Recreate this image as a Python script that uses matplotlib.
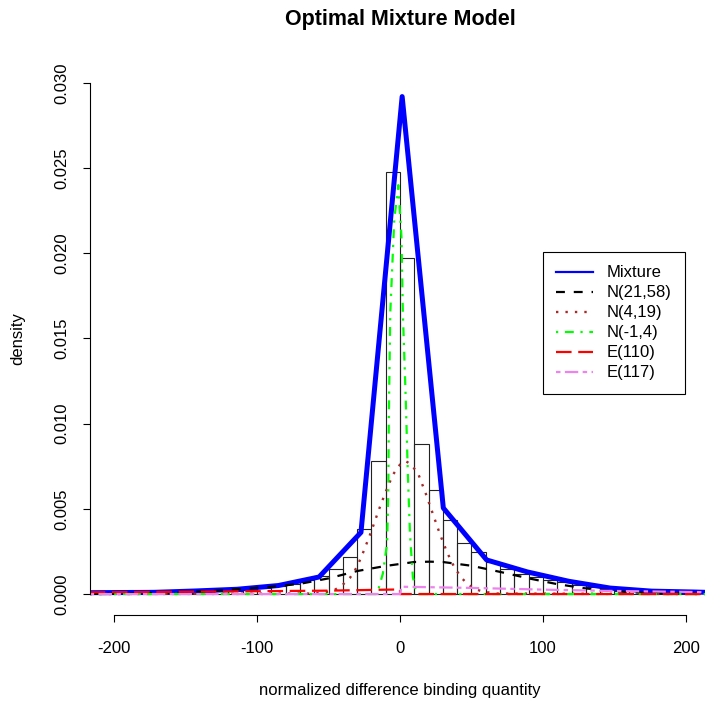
import matplotlib
matplotlib.use("Agg")
import matplotlib.pyplot as plt
import numpy as np

plt.rcParams['font.family'] = ['Liberation Sans', 'DejaVu Sans']
plt.rcParams['axes.unicode_minus'] = False

# histogram (bin width 10, from -210 to 210)
bin_left = list(range(-210, 210, 10))
hist_density = [
    0.00001, 0.00001, 0.00001, 0.00002, 0.00004, 0.00006, 0.00008, 0.0001,
    0.00015, 0.0002, 0.00025, 0.00035, 0.00045, 0.0006, 0.0008,
    0.00106, 0.00145, 0.00215, 0.0038, 0.00783, 0.0248, 0.0197, 0.0088,
    0.0061, 0.00434, 0.00301, 0.00245, 0.0019, 0.00145, 0.0012, 0.001,
    0.00085, 0.0007, 0.00055, 0.0004, 0.0003, 0.0002, 0.00015, 0.0001,
    0.00006, 0.00004, 0.00002,
]

# mixture fit
mix_x = [-217, -172, -143, -114, -85, -56.6, -27.3, 1.5, 30.3, 60.6, 89, 118, 147, 176, 205, 214]
mix_y = [0.00008, 0.0001, 0.00018, 0.00028, 0.0005, 0.001, 0.00362, 0.0292, 0.00505, 0.002,
         0.0013, 0.00075, 0.00035, 0.00017, 0.00012, 0.0001]

# N(21,58)
n1_x = [-217, -190, -170, -150, -130, -110, -90, -70, -50, -30, -10, 10, 21, 30, 50, 70, 90,
        110, 130, 150, 170, 190, 214]
n1_y = [0.00001, 0.00003, 0.00006, 0.00011, 0.00019, 0.0003, 0.00043, 0.0006, 0.00092, 0.00135,
        0.00165, 0.00188, 0.0019, 0.00188, 0.00166, 0.0013, 0.00092, 0.00058, 0.00033, 0.00016,
        0.00007, 0.00003, 0.00001]

# N(4,19)
n2_x = [-217, -60, -50, -45, -40, -35, -30, -25, -20, -15, -10, -5, 0, 4, 8, 13, 18, 23, 28,
        33, 38, 43, 48, 53, 58, 68, 214]
n2_y = [0, 0.00003, 0.00014, 0.00028, 0.00055, 0.00095, 0.0016, 0.0026, 0.0037, 0.0049, 0.006,
        0.007, 0.0076, 0.0078, 0.0076, 0.007, 0.0059, 0.0047, 0.0035, 0.00243, 0.00157, 0.00095,
        0.00053, 0.00028, 0.00014, 0.00003, 0]

# N(-1,4)
n3_x = [-217, -16, -12, -9, -8.2, -7.8, -6.8, -4, -1.2, 1, 2, 4, 5.5, 7, 9, 11, 13, 214]
n3_y = [0, 0, 0.0012, 0.003, 0.006, 0.0105, 0.0165, 0.022, 0.024, 0.021, 0.0165, 0.0115,
        0.007, 0.0035, 0.001, 0.0002, 0, 0]

# E(110), negative side
e1_x = [-217, -110, -50, 0, 0, 214]
e1_y = [0.0001, 0.00016, 0.0002, 0.00027, 0, 0]

# E(117), positive side
e2_x = [-217, 0, 1, 50, 100, 150, 214]
e2_y = [0, 0, 0.00043, 0.00036, 0.00026, 0.00018, 0.00011]

fig = plt.figure(figsize=(7.05, 7.04), dpi=100)
ax = fig.add_axes([90 / 705, 89 / 704, 615 / 705, 552 / 704])

ax.bar(bin_left, hist_density, width=10, align='edge', facecolor='none',
       edgecolor='#222222', linewidth=0.8)

ax.plot(mix_x, mix_y, color='#0000FF', lw=3.6, label='Mixture')
ax.plot(n1_x, n1_y, color='black', lw=1.6, dashes=(4, 4), label='N(21,58)')
ax.plot(n2_x, n2_y, color='#A52A2A', lw=1.7, dashes=(1, 3), label='N(4,19)')
ax.plot(n3_x, n3_y, color='#00FF00', lw=1.6, dashes=(1, 3, 4, 3), label='N(-1,4)')
ax.plot(e1_x, e1_y, color='#FF0000', lw=1.6, dashes=(7, 3), label='E(110)')
ax.plot(e2_x, e2_y, color='violet', lw=1.6, dashes=(2, 2, 6, 2), label='E(117)')

ax.set_xlim(-216.8, 213.3)
ax.set_ylim(-0.00123, 0.03117)

for s in ['top', 'right']:
    ax.spines[s].set_visible(False)
ax.spines['left'].set_bounds(0, 0.03)
ax.spines['bottom'].set_bounds(-200, 200)
for s in ['left', 'bottom']:
    ax.spines[s].set_linewidth(0.8)

ax.set_xticks([-200, -100, 0, 100, 200])
yt = np.arange(0, 0.0301, 0.005)
ax.set_yticks(yt)
ax.set_yticklabels(['%.3f' % v for v in yt], rotation=90, va='center')
ax.tick_params(axis='both', length=5, width=0.8, labelsize=12)
ax.tick_params(axis='x', pad=14)
ax.tick_params(axis='y', pad=10)

leg = ax.legend(loc='upper left', bbox_to_anchor=(0.7366, 0.6576), borderaxespad=0,
                fontsize=12, handlelength=2.2, handletextpad=0.84, labelspacing=0.3,
                borderpad=0.8, fancybox=False, framealpha=1, edgecolor='black')
leg.get_frame().set_linewidth(0.8)
leg.get_lines()[0].set_linewidth(1.6)

fig.text(400 / 705, 1 - 19 / 704, 'Optimal Mixture Model', ha='center', va='center',
         fontsize=15.5, fontweight='bold')
fig.text(400 / 705, 1 - 690 / 704, 'normalized difference binding quantity', ha='center',
         va='center', fontsize=12)
fig.text(18 / 705, 1 - 339 / 704, 'density', ha='center', va='center', rotation=90,
         fontsize=12)

fig.savefig('out.png', dpi=100)
